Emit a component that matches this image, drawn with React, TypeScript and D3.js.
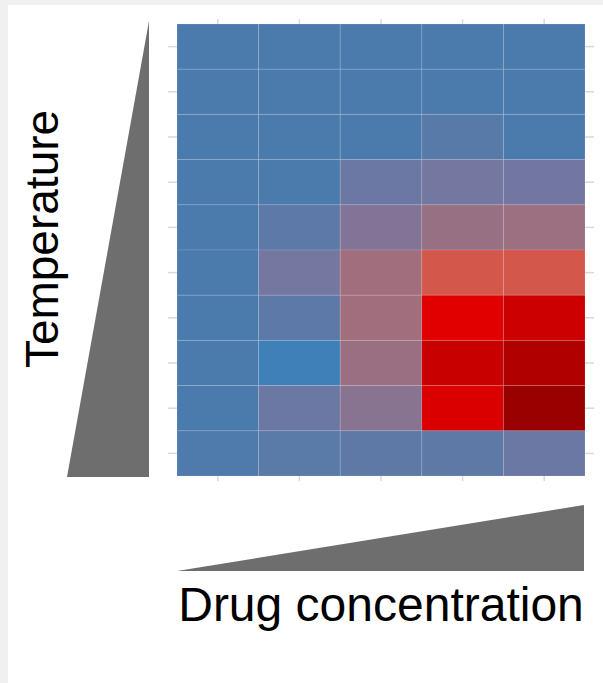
import React from "react";
import * as d3 from "d3";

// Drug concentration levels (left → right) and temperature levels (top → bottom)
const concentrations = ["C1", "C2", "C3", "C4", "C5"];
const temperatures = ["T1", "T2", "T3", "T4", "T5", "T6", "T7", "T8", "T9", "T10"];

// Response score per temperature row, one value per concentration
const response: number[][] = [
  [0.0, 0.0, 0.0, 0.0, 0.0],
  [0.0, 0.0, 0.0, 0.0, 0.0],
  [0.0, 0.0, 0.0, 0.09, 0.0],
  [0.0, 0.0, 0.22, 0.29, 0.27],
  [0.0, 0.13, 0.36, 0.46, 0.48],
  [0.0, 0.29, 0.5, 0.7, 0.7],
  [0.0, 0.13, 0.5, 0.85, 0.89],
  [0.0, -0.2, 0.47, 0.9, 0.95],
  [0.0, 0.23, 0.39, 0.86, 1.0],
  [0.02, 0.11, 0.14, 0.14, 0.22],
];

// Colour ramp stops
const colourDomain = [-0.2, 0, 0.3, 0.5, 0.7, 0.85, 1];
const colourRange = ["#3f80b8", "#4b7bad", "#7577a0", "#a06e7d", "#d4574b", "#e00000", "#990000"];

const W = 603;
const H = 683;

export default function App() {
  const x = d3.scaleBand<string>().domain(concentrations).range([177, 585]).padding(0);
  const y = d3.scaleBand<string>().domain(temperatures).range([24, 476]).padding(0);
  const colour = d3
    .scaleLinear<string>()
    .domain(colourDomain)
    .range(colourRange)
    .interpolate(d3.interpolateRgb)
    .clamp(true);

  const [x0, x1] = x.range();
  const [y0, y1] = y.range();
  const tickColour = "#d9d9d9";

  const cells = temperatures.flatMap((t, i) =>
    concentrations.map((c, j) => ({ t, c, v: response[i][j] }))
  );

  return (
    <div style={{ position: "absolute", left: 0, top: 0 }}>
      <svg width={W} height={H} style={{ display: "block" }}>
        <rect x={0} y={0} width={W} height={H} fill="#f0f0f0" />
        <rect x={8} y={5} width={W - 8} height={H - 5} fill="#ffffff" />

        {/* axis ticks */}
        {temperatures.map((t) => {
          const cy = (y(t) as number) + y.bandwidth() / 2;
          return (
            <g key={"yt" + t}>
              <line x1={x0 - 9} x2={x0} y1={cy} y2={cy} stroke={tickColour} strokeWidth={1.5} />
              <line x1={x1} x2={x1 + 9} y1={cy} y2={cy} stroke={tickColour} strokeWidth={1.5} />
            </g>
          );
        })}
        {concentrations.map((c) => {
          const cx = (x(c) as number) + x.bandwidth() / 2;
          return (
            <g key={"xt" + c}>
              <line x1={cx} x2={cx} y1={y0 - 5} y2={y0} stroke={tickColour} strokeWidth={1.5} />
              <line x1={cx} x2={cx} y1={y1} y2={y1 + 5} stroke={tickColour} strokeWidth={1.5} />
            </g>
          );
        })}

        {/* heatmap tiles */}
        {cells.map((d) => (
          <rect
            key={d.t + d.c}
            x={x(d.c)}
            y={y(d.t)}
            width={x.bandwidth()}
            height={y.bandwidth()}
            fill={colour(d.v)}
            stroke="rgba(255,255,255,0.12)"
            strokeWidth={1}
          />
        ))}

        {/* temperature wedge */}
        <path
          d={`M${149},${y0 - 3} L${149},${y1 + 1} L${67},${y1 + 1} Z`}
          fill="#6e6e6e"
        />
        {/* concentration wedge */}
        <path d={`M${x0},571 L${x1 - 1},505 L${x1 - 1},571 Z`} fill="#6e6e6e" />

        <text
          transform={`translate(58,${239}) rotate(-90)`}
          textAnchor="middle"
          fontFamily="Liberation Sans, Arial, sans-serif"
          fontSize={46}
          fill="#000"
        >
          Temperature
        </text>
        <text
          x={(x0 + x1) / 2}
          y={621}
          textAnchor="middle"
          fontFamily="Liberation Sans, Arial, sans-serif"
          fontSize={48}
          fill="#000"
        >
          Drug concentration
        </text>
      </svg>
    </div>
  );
}
